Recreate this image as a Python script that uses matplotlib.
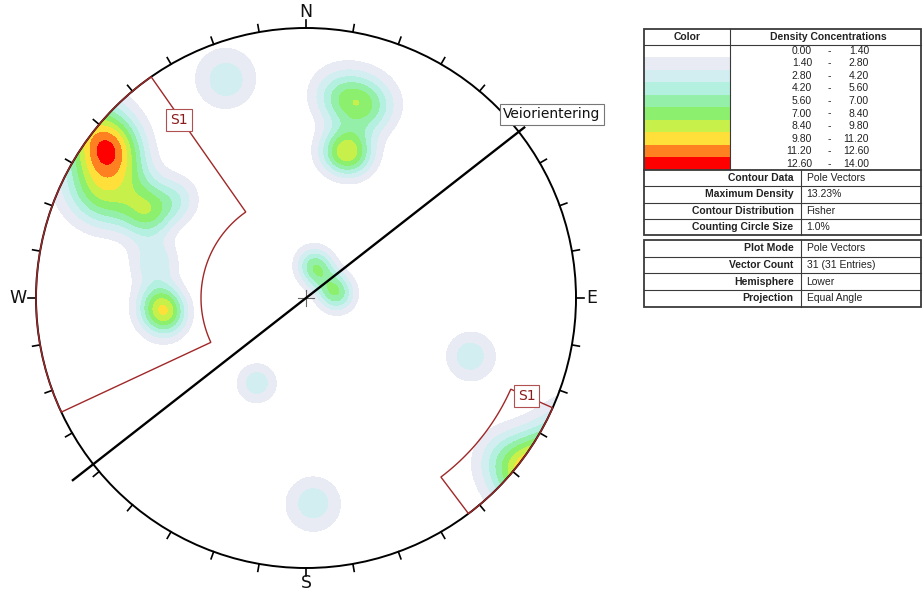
import numpy as np
import matplotlib.pyplot as plt
from matplotlib.patches import Circle, Polygon, Rectangle

# pole vectors (trend, plunge in degrees)
pole_trend = [308.6, 308.3, 304.8, 297.6, 129.0,
              299.3, 296.9, 306.8, 304.0, 294.8,
              265.2, 268.4, 261.9, 283.4,
              339.9,
              8.5, 14.2, 19.3, 16.0, 18.6, 12.1,
              11.3, 24.8, 69.7, 86.4,
              210.0, 109.5, 178.0]
pole_plunge = [3.7, 6.2, 4.2, 5.8, 3.0,
               20.3, 23.5, 27.6, 13.0, 11.2,
               34.0, 33.2, 34.8, 30.2,
               8.6,
               15.9, 15.8, 16.5, 29.0, 32.6, 32.5,
               74.9, 77.9, 77.8, 76.5,
               50.1, 24.4, 15.6]

# density legend
dens_low = [0.00, 1.40, 2.80, 4.20, 5.60, 7.00, 8.40, 9.80, 11.20, 12.60]
dens_high = [1.40, 2.80, 4.20, 5.60, 7.00, 8.40, 9.80, 11.20, 12.60, 14.00]
dens_colors = ['#ffffff', '#e8ebf4', '#d2eef0', '#b4f0e0', '#94f0a8',
               '#8cf06e', '#c8f04a', '#ffe03a', '#ff8020', '#ff0000']

info1 = [('Contour Data', 'Pole Vectors'), ('Maximum Density', '13.23%'),
         ('Contour Distribution', 'Fisher'), ('Counting Circle Size', '1.0%')]
info2 = [('Plot Mode', 'Pole Vectors'), ('Vector Count', '31 (31 Entries)'),
         ('Hemisphere', 'Lower'), ('Projection', 'Equal Angle')]

# set windows: (trend from, trend to, inner plunge, label radius, label trend)
windows = [(245, 325, 47.5, 0.811, 324.5), (114, 143, 10.6, 0.894, 114.0)]
plane_trend = 52.0   # strike line "Veiorientering"

K = 120.0     # fisher concentration
P1 = 3.7      # peak % of a single pole


def vec(trend, plunge):
    t, p = np.radians(trend), np.radians(plunge)
    return np.cos(p) * np.cos(t), np.cos(p) * np.sin(t), np.sin(p)


fig = plt.figure(figsize=(9.22, 5.96), dpi=100)

# ---- table (pixel coordinates) ----
tab = fig.add_axes([0, 0, 1, 1])
tab.set_xlim(0, 922)
tab.set_ylim(596, 0)
tab.axis('off')

tf = dict(family='Liberation Sans', fontsize=7.5, color='#222222')
x0, x1, xc, xs = 644, 921, 729.5, 800.5
yt, yh, yc = 28.5, 44.5, 170.0
rh = (yc - yh) / 10
lc, lw_in, lw_out = '#3a3a3a', 0.8, 1.3

for i, col in enumerate(dens_colors):
    tab.add_patch(Rectangle((x0, yh + i * rh), xc - x0, rh, fc=col, ec='none'))
    yy = yh + (i + 0.5) * rh
    tab.text(812, yy, f'{dens_low[i]:.2f}', ha='right', va='center', **tf)
    tab.text(829, yy, '-', ha='center', va='center', **tf)
    tab.text(869, yy, f'{dens_high[i]:.2f}', ha='right', va='center', **tf)
tab.text((x0 + xc) / 2, (yt + yh) / 2, 'Color', ha='center', va='center', weight='bold', **tf)
tab.text(828, (yt + yh) / 2, 'Density Concentrations', ha='center', va='center', weight='bold', **tf)
tab.plot([x0, x1], [yh, yh], color=lc, lw=lw_in)
tab.plot([xc, xc], [yt, yc], color=lc, lw=lw_in)


def info_block(rows, ytop, ybot):
    h = (ybot - ytop) / len(rows)
    for j, (lab, val) in enumerate(rows):
        yy = ytop + (j + 0.5) * h
        tab.text(xs - 7, yy, lab, ha='right', va='center', weight='bold', **tf)
        tab.text(xs + 6, yy, val, ha='left', va='center', **tf)
        if j > 0:
            tab.plot([x0, x1], [ytop + j * h] * 2, color=lc, lw=lw_in)
    tab.plot([xs, xs], [ytop, ybot], color=lc, lw=lw_in)


tab.plot([x0, x1], [yc, yc], color=lc, lw=lw_out)
info_block(info1, yc, 235.0)
tab.add_patch(Rectangle((x0, yt), x1 - x0, 235.0 - yt, fc='none', ec=lc, lw=lw_out))
info_block(info2, 240.0, 306.5)
tab.add_patch(Rectangle((x0, 240.0), x1 - x0, 66.5, fc='none', ec=lc, lw=lw_out))

# ---- stereonet ----
R = 270.0
lim = 1.1
w = 2 * lim * R
ax = fig.add_axes([(306 - w / 2) / 922, (298 - w / 2) / 596, w / 922, w / 596])
ax.set_xlim(-lim, lim)
ax.set_ylim(-lim, lim)
ax.set_aspect('equal')
ax.axis('off')

g = np.linspace(-1.02, 1.02, 461)
X, Y = np.meshgrid(g, g)
rr = np.hypot(X, Y)
gt = np.degrees(np.arctan2(X, Y))
gp = 90 - 2 * np.degrees(np.arctan(rr))
gn, ge, gd = vec(gt, gp)
pn, pe, pd = vec(np.array(pole_trend), np.array(pole_plunge))
dens = np.zeros_like(X)
for a, b, c in zip(pn, pe, pd):
    dot = np.abs(gn * a + ge * b + gd * c)
    dens += P1 * np.exp(K * (dot - 1))

levels = [1.4 * k for k in range(1, 11)]
cs = ax.contourf(X, Y, dens, levels=levels, colors=dens_colors[1:], extend='max')
cs.cmap.set_over(dens_colors[-1])
clip = Circle((0, 0), 1.0, transform=ax.transData)
cs.set_clip_path(clip)

ax.add_patch(Circle((0, 0), 1.0, fc='none', ec='black', lw=1.4, zorder=3))
for az in range(0, 360, 10):
    t = np.radians(az)
    ax.plot([np.sin(t), 1.028 * np.sin(t)], [np.cos(t), 1.028 * np.cos(t)],
            color='black', lw=1.2, zorder=3)
for lab, az, rl in [('N', 0, 1.058), ('E', 90, 1.058), ('S', 180, 1.056), ('W', 270, 1.065)]:
    t = np.radians(az)
    ax.text(rl * np.sin(t), rl * np.cos(t), lab, ha='center', va='center',
            fontsize=12.5, family='DejaVu Sans', color='#111111', zorder=4)

# centre cross
d = 8 / R
ax.plot([-d, d], [0, 0], color='#666666', lw=0.8, zorder=4)
ax.plot([0, 0], [-d, d], color='#666666', lw=0.8, zorder=4)

# plane line
t = np.radians(plane_trend)
ax.plot([-1.10 * np.sin(t), 1.03 * np.sin(t)], [-1.10 * np.cos(t), 1.03 * np.cos(t)],
        color='black', lw=1.7, zorder=5, solid_capstyle='butt')
ax.text(0.911, 0.681, 'Veiorientering', ha='center', va='center', fontsize=10,
        family='DejaVu Sans', color='#111111', zorder=6,
        bbox=dict(boxstyle='square,pad=0.25', fc='white', ec='#777777', lw=0.8))

# set windows
for t1, t2, p_in, rlab, tlab in windows:
    ts = np.linspace(t1, t2, 60)
    r_in = np.tan(np.radians(90 - p_in) / 2)
    ox, oy = np.sin(np.radians(ts)), np.cos(np.radians(ts))
    xs_ = np.concatenate([ox, r_in * ox[::-1]])
    ys_ = np.concatenate([oy, r_in * oy[::-1]])
    ax.add_patch(Polygon(np.column_stack([xs_, ys_]), closed=True, fc='none',
                         ec='#a02828', lw=1.0, zorder=6))
    tl = np.radians(tlab)
    ax.text(rlab * np.sin(tl), rlab * np.cos(tl), 'S1', ha='center', va='center',
            fontsize=10, family='DejaVu Sans', color='#8b1a1a', zorder=7,
            bbox=dict(boxstyle='square,pad=0.3', fc='white', ec='#b05050', lw=0.8))

fig.savefig('out.png', dpi=100)
